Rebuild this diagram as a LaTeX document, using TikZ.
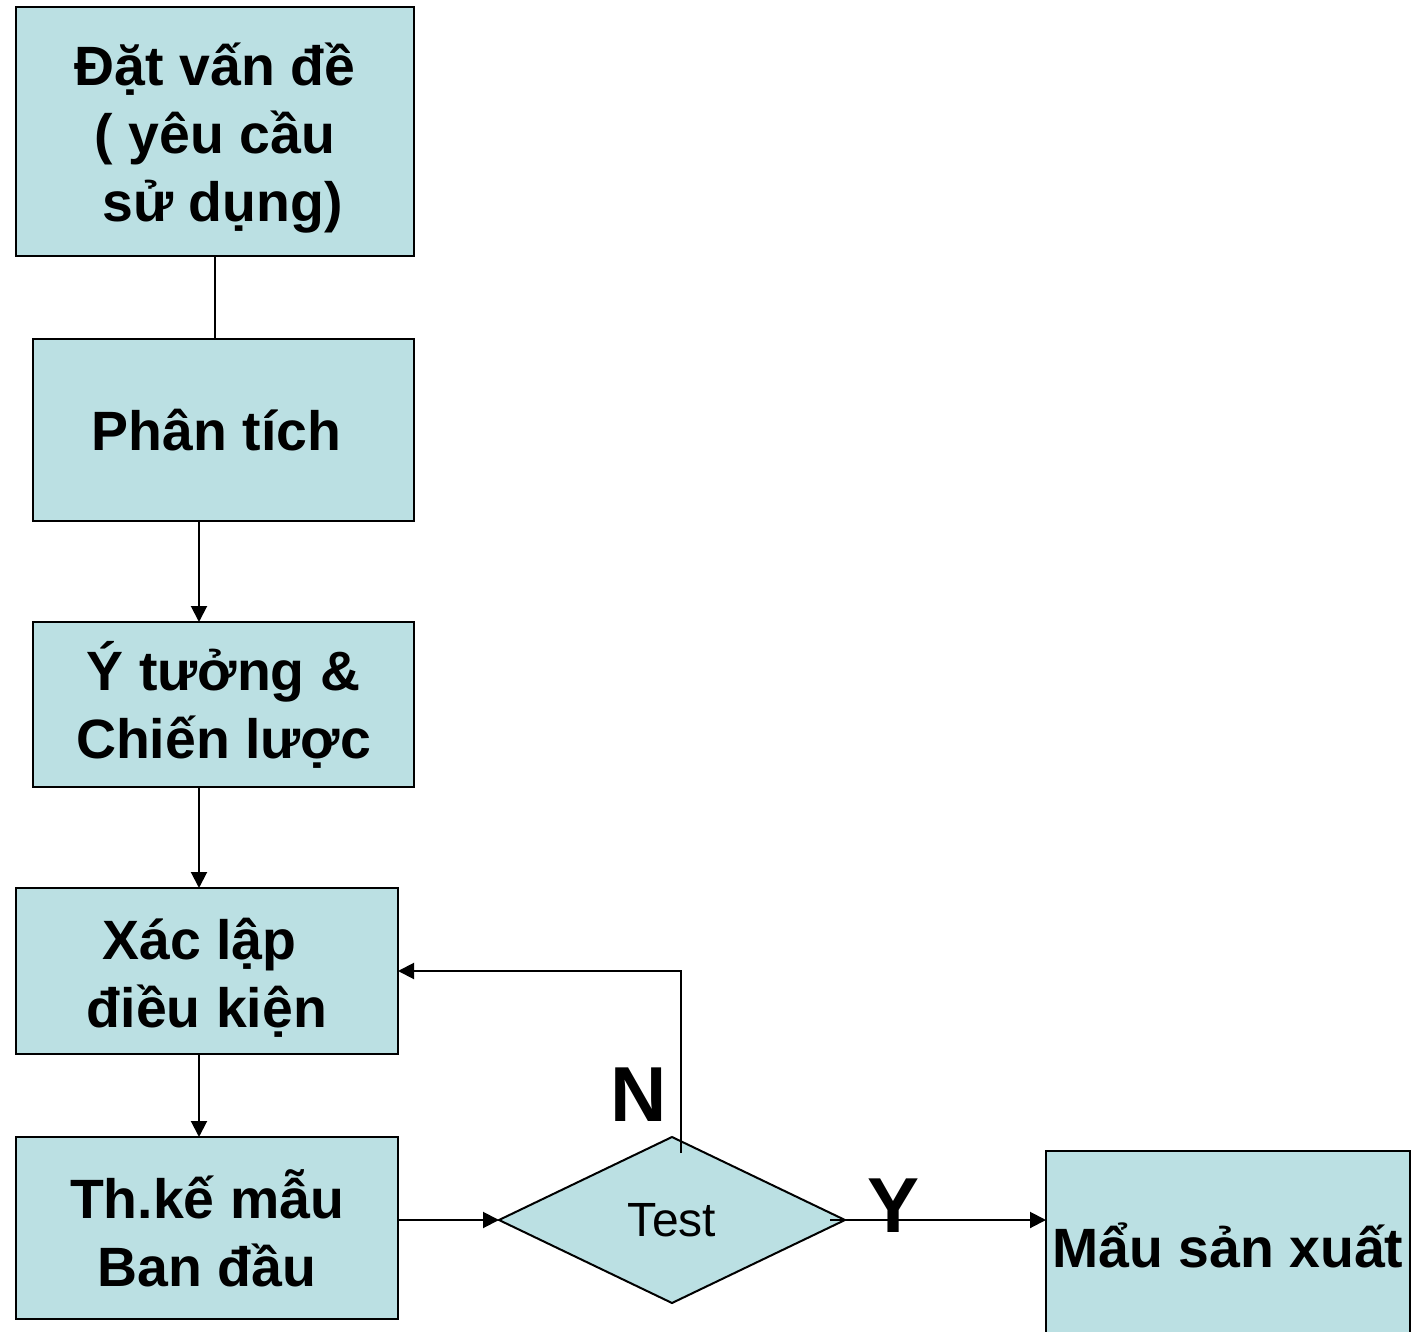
\documentclass[tikz,border=0pt]{standalone}
\usepackage{fontspec}
\setmainfont{Liberation Sans}
\usetikzlibrary{arrows.meta,shapes.geometric}
\definecolor{boxfill}{HTML}{BBE0E3}
% invisible strut that lowers a multi-line box text a little
\newcommand{\topstrut}[1]{\rule{0pt}{#1}}
% a kept word space at the start or end of a line
\newcommand{\keptspace}{\hspace*{0.278em}}
\begin{document}
\begin{tikzpicture}[x=0.5pt,y=-0.5pt,
  box/.style={draw=black,line width=1pt,fill=boxfill,rectangle,inner sep=0pt,outer sep=0pt,
    align=center,font=\bfseries\fontsize{27.7}{34}\selectfont},
  decision/.style={draw=black,line width=1pt,fill=boxfill,diamond,inner sep=0pt,outer sep=0pt,
    minimum width=173pt,minimum height=83pt,font=\fontsize{24}{28}\selectfont},
  flow/.style={line width=1pt,-{Triangle[length=8pt,width=8pt]}},
  plain/.style={line width=1pt},
  tag/.style={font=\bfseries\fontsize{39}{44}\selectfont,inner sep=0pt}]
\useasboundingbox (0,0) rectangle (1415,1332);

% process boxes
\node[box,minimum width=199pt,minimum height=124.5pt] (problem) at (215,131.5)
  {\topstrut{27.5pt}Đặt vấn đề\\( yêu cầu\\\keptspace sử dụng)};
\node[box,minimum width=190.5pt,minimum height=91pt] (analysis) at (223.5,430)
  {Phân tích\hspace{7pt}};
\node[box,minimum width=190.5pt,minimum height=82.5pt] (idea) at (223.5,704.5)
  {Ý tưởng \&\\Chiến lược};
\node[box,minimum width=191pt,minimum height=83pt] (setup) at (207,971)
  {\topstrut{27.5pt}Xác lập\keptspace\\điều kiện};
\node[box,minimum width=191pt,minimum height=91pt] (draft) at (207,1228)
  {Th.kế mẫu\\Ban đầu};
\node[decision] (test) at (672,1220) {Test};
\node[box,minimum width=182pt,minimum height=94pt] (product) at (1228,1245)
  {Mẩu sản xuất};

% connector ends inside the decision shape
\coordinate (nstart) at (681,1153);
\coordinate (ystart) at (830,1220);

% connectors
\draw[plain] (problem.south) -- (problem.south |- analysis.north);
\draw[flow] (199,0 |- analysis.south) -- (199,0 |- idea.north);
\draw[flow] (199,0 |- idea.south) -- (199,0 |- setup.north);
\draw[flow] (199,0 |- setup.south) -- (199,0 |- draft.north);
\draw[flow] (draft.east |- test.west) -- (test.west);
\draw[flow] (nstart) |- (setup.east);
\draw[flow] (ystart) -- (product.west |- ystart);

% branch labels
\node[tag] (no) at (639,1095) {N};
\node[tag] (yes) at (894,1206) {Y};
\end{tikzpicture}
\end{document}
